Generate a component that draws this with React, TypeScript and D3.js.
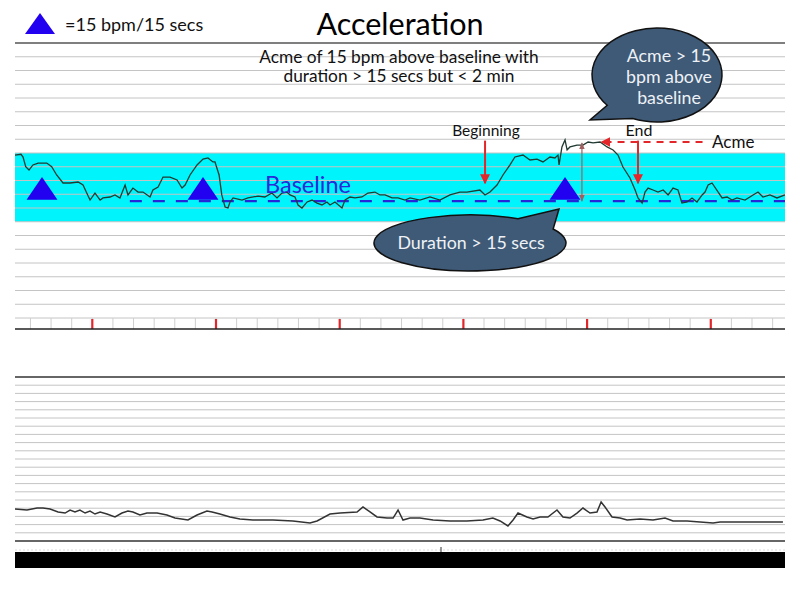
import React from "react";
import * as d3 from "d3";

// ---- data (time in seconds, heart rate in bpm) ----
const upperTime = [-37.5,-34.6,-33.6,-32.3,-30.7,-28.8,-26.3,-22.1,-19.7,-17.3,-14.2,-10.8,-6.9,-4.5,-2.7,-1.1,1.3,3.8,5.2,8.6,11,13.4,15.9,17.3,19.7,22.2,24.6,28,29.4,31.9,34.3,37.7,41.1,43.5,45,47.4,50.8,53.7,56.1,58.5,59.5,61.5,62.8,64.4,65.8,66.8,68.3,72.6,75.5,80.4,83.7,87.1,89.6,92,94.4,95.9,98.3,99.8,101.7,104.2,106.6,109,111.4,113.8,115.3,117.7,121.1,122.6,125,127.4,130.8,133.7,137.1,139.5,142,145.4,148.3,151.7,154.1,158.9,163.8,168.6,173.5,178.3,181.7,188,190.5,192.9,196.3,199.2,202.6,205,208.9,212.3,215.7,218.6,222,224.4,225.9,226.4,227.8,229.3,230.3,231.7,235.1,238,240.5,242.9,246.3,249.7,252.6,255,257.4,260.8,263.3,264.7,266.7,268.1,269.6,272,274.4,276.9,279.3,281.7,284.1,286,288.5,290.9,293.3,295.8,297.2,298.7,300.6,305.5,307.9,310.3,312.7,316.6,320.5,322.9,325.3,328.7,332.1,336];
const upperBpm = [158.5,159.1,157.1,150,147.6,151.3,152.7,152.7,150,144,138.2,138.2,138.9,136.7,130.9,125.8,130.9,125.8,127.3,128,129.5,127.3,136.7,129.5,134.5,131.6,131.6,128,133.1,135.3,142.5,142.5,140.4,134.5,136.7,144,151.3,155.6,156.4,153.5,153.5,144,129.5,120.7,120,124.4,127.3,125.8,127.3,128.7,128,130.9,127.3,130.9,131.6,129.5,128,122.2,120,124.4,125.8,123.6,122.2,124.4,122.2,124.4,120,125.8,128,127.3,128,130.9,131.6,129.5,129.5,127.3,127.3,125.8,127.3,125.8,128,125.8,129.5,131.6,131.6,133.1,129.5,131.6,136.7,144,151.3,157.1,158.5,154.9,155.6,153.5,157.1,156.4,158.5,151.3,164.4,169.5,162.2,164.4,165.8,165.8,168,167.3,168,164.4,162.2,158.5,149.8,141.8,133.1,127.3,123.6,131.6,134.5,133.1,131.6,133.1,129.5,134.5,133.1,123.6,124.4,127.3,124.4,129.5,131.6,136.7,138.2,127.3,128,125.8,127.3,125.8,129.5,131.6,128,129.5,127.3,129.5];

const lowerTime = [-37.5,-31.7,-26.8,-23.9,-20.5,-16.6,-13.2,-10.8,-8.4,-6,-3.5,-1.1,1.3,3.8,7.1,11,14.4,17.3,19.7,23.1,26.5,31.4,36.2,40.1,46.4,50.8,55.6,58.1,61.9,66.8,71.6,77.9,87.6,97.3,105.6,109,115.3,120.2,128.4,131.3,134.7,138.1,143,145.9,148.3,150.7,154.1,158.9,165.3,173.5,181.7,189.5,194.3,197.8,201.6,204.1,206.5,210.8,213.8,217.2,221,225.4,228.3,231.7,235.1,238,241.4,244.8,246.8,248.7,252.1,256,259.4,265.7,272,277.8,281.7,288.5,294.8,301.1,304.5,310.8,319.1,327.3,335];
const lowerBpm = [79,77.8,80.2,80.2,79,75.4,74.1,77.8,75.4,77.8,74.1,76.6,72.9,75.4,72.9,69.3,74.1,76.6,75.4,71.7,74.1,74.1,71.7,68,65.6,71.7,76.6,75.4,72.9,69.3,66.8,65.6,65.6,64.4,62,64.4,72.9,74.1,75.4,81.5,75.4,69.3,68,68,77.8,65.6,68,68,65.6,64.4,64.4,65.6,68,64.4,58.3,65.6,74.1,69.3,66.8,69.3,69.3,77.8,69.3,68,74.1,80.2,74.1,75.4,87.6,81.5,69.3,68,65.6,66.8,65.6,68,64.4,64.4,63.2,62,63.2,63.2,63.2,63.2,63.2];

const triangleTimes = [-24.4, 53.7, 229.3];
const baselineBpm = 125;
const bandBpm = [110, 160];
const acmeBpm = 168;
const acmeTime = 246;
const beginTime = 190.5;
const endTime = 264.7;
const durationTime = 237.5;
const minuteTicks = [0, 60, 120, 180, 240, 300];
const subtitleLines = ["Acme of 15 bpm above baseline with", "duration > 15 secs but < 2 min"];
const bubble1Lines = ["Acme > 15", "bpm above", " baseline"];

const FONT = "Lato, 'Open Sans', sans-serif";

function bubblePath(cx: number, cy: number, rx: number, ry: number, a1: number, a2: number, tip: [number, number]) {
  const p = (a: number) => [cx + rx * Math.cos((a * Math.PI) / 180), cy + ry * Math.sin((a * Math.PI) / 180)];
  const A = p(a1);
  const B = p(a2);
  return `M${A[0]},${A[1]}L${tip[0]},${tip[1]}L${B[0]},${B[1]}A${rx},${ry} 0 1 1 ${A[0]},${A[1]}Z`;
}

export default function App() {
  const x = d3.scaleLinear().domain([-37.5, 336]).range([15, 785]);
  const yT = d3.scaleLinear().domain([32, 240]).range([329, 43]);
  const yB = d3.scaleLinear().domain([40, 240]).range([541, 377]);

  const gridBpm = d3.range(40, 250, 10);
  const minorTicks = d3.range(-30, 336, 10);

  const upperLine = d3.line<number>().x((_, i) => x(upperTime[i])).y((d) => yT(d))(upperBpm) || "";
  const lowerLine = d3.line<number>().x((_, i) => x(lowerTime[i])).y((d) => yB(d))(lowerBpm) || "";

  const triPath = (t: number) =>
    d3.line()([
      [x(t - 7.5), yT(126)],
      [x(t), yT(142.5)],
      [x(t + 7.5), yT(126)],
    ]) + "Z";

  const red = "#e3262a";

  return (
    <svg width={800} height={600} style={{ position: "absolute", left: 0, top: 0, background: "#fff" }} fontFamily={FONT}>
      <defs>
        <marker id="arr" viewBox="0 0 10 10" refX="9" refY="5" markerWidth="5" markerHeight="5" orient="auto-start-reverse">
          <path d="M0,0L10,5L0,10Z" fill={red} />
        </marker>
        <marker id="arrg" viewBox="0 0 10 10" refX="9" refY="5" markerWidth="6" markerHeight="6" orient="auto-start-reverse">
          <path d="M0,1L10,5L0,9Z" fill="#a06060" />
        </marker>
      </defs>
      <rect width={800} height={600} fill="#fff" />

      {/* cyan band */}
      <rect x={x(-37.5)} width={x(336) - x(-37.5)} y={yT(bandBpm[1])} height={yT(bandBpm[0]) - yT(bandBpm[1])} fill="#00f4fb" />

      {/* upper grid */}
      {gridBpm.map((b) => (
        <line key={"u" + b} x1={15} x2={785} y1={yT(b)} y2={yT(b)} stroke={b === 240 ? "#555" : "#c4c4c4"} strokeWidth={b === 240 ? 1.6 : 1} />
      ))}
      {minorTicks.map((t) => (
        <line key={"mt" + t} x1={x(t)} x2={x(t)} y1={yT(40)} y2={yT(32)} stroke="#cfcfcf" strokeWidth={1} />
      ))}
      {minuteTicks.map((t) => (
        <line key={"rt" + t} x1={x(t)} x2={x(t)} y1={yT(40) + 1} y2={yT(32)} stroke={red} strokeWidth={2.2} />
      ))}
      <line x1={15} x2={785} y1={yT(32)} y2={yT(32)} stroke="#222" strokeWidth={1.4} />

      {/* lower grid */}
      {gridBpm.map((b) => (
        <line key={"l" + b} x1={15} x2={785} y1={yB(b)} y2={yB(b)} stroke={b === 240 || b === 40 ? "#333" : "#c4c4c4"} strokeWidth={b === 240 || b === 40 ? 1.4 : 1} />
      ))}
      <line x1={15} x2={785} y1={550} y2={550} stroke="#ddd" strokeWidth={1} strokeDasharray="2,2" />
      <line x1={441} x2={441} y1={547} y2={552} stroke="#333" strokeWidth={1} />
      <rect x={15} y={552} width={770} height={16} fill="#000" />

      {/* baseline dashes */}
      <line x1={x(18.2)} x2={x(336)} y1={yT(baselineBpm)} y2={yT(baselineBpm)} stroke="#2626d8" strokeWidth={2.2} strokeDasharray="12,11" />

      {/* traces */}
      <path d={upperLine} fill="none" stroke="#1f3a30" strokeWidth={1.3} />
      <path d={lowerLine} fill="none" stroke="#333" strokeWidth={1.5} />

      {/* triangles */}
      {triangleTimes.map((t) => (
        <path key={"tri" + t} d={triPath(t)} fill="#2200f0" />
      ))}

      {/* annotation arrows */}
      <line x1={x(beginTime)} x2={x(beginTime)} y1={yT(169)} y2={yT(138)} stroke={red} strokeWidth={2} markerEnd="url(#arr)" />
      <line x1={x(endTime)} x2={x(endTime)} y1={yT(169)} y2={yT(138)} stroke={red} strokeWidth={2} markerEnd="url(#arr)" />
      <line x1={x(296)} x2={x(acmeTime) + 2} y1={yT(acmeBpm)} y2={yT(acmeBpm)} stroke={red} strokeWidth={2} strokeDasharray="7,6" markerEnd="url(#arr)" />
      <line x1={x(durationTime)} x2={x(durationTime)} y1={yT(acmeBpm) + 1} y2={yT(baselineBpm)} stroke="#a06060" strokeWidth={1.2} markerStart="url(#arrg)" markerEnd="url(#arrg)" />

      {/* texts */}
      <path d={"M25,34L40,13L55,34Z"} fill="#2200f0" />
      <text x={65} y={31} fontSize={18} fill="#111">=15 bpm/15 secs</text>
      <text x={400} y={35} fontSize={30.5} textAnchor="middle" fill="#000">Acceleration</text>
      {subtitleLines.map((s, i) => (
        <text key={s} x={399} y={63 + i * 19} fontSize={17.3} textAnchor="middle" fill="#111">{s}</text>
      ))}
      <text x={265} y={193} fontSize={23.5} fill="#2a2ad8">Baseline</text>
      <text x={486} y={136} fontSize={15.5} textAnchor="middle" fill="#111">Beginning</text>
      <text x={639} y={136} fontSize={16} textAnchor="middle" fill="#111">End</text>
      <text x={712} y={148} fontSize={17} fill="#111">Acme</text>

      {/* bubbles */}
      <path d={bubblePath(657, 75, 65, 47, 112, 140, [590, 120])} fill="#3f5a76" stroke="#111" strokeWidth={1.5} />
      {bubble1Lines.map((s, i) => (
        <text key={s} x={669} y={62 + i * 21} fontSize={17.8} textAnchor="middle" fill="#eef2f6">{s}</text>
      ))}
      <path d={bubblePath(470, 243, 96, 28, -60, -30, [559, 209])} fill="#3f5a76" stroke="#111" strokeWidth={1.5} />
      <text x={471} y={249} fontSize={17.8} textAnchor="middle" fill="#eef2f6">Duration &gt; 15 secs</text>
    </svg>
  );
}
